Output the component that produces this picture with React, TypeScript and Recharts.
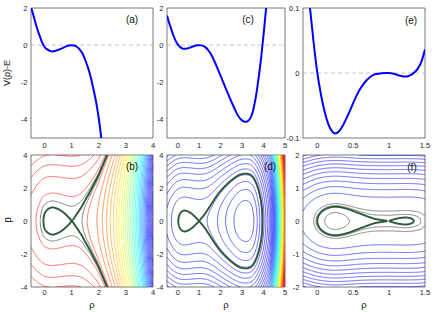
import React from "react";
import { LineChart, Line, XAxis, YAxis, ReferenceLine, ReferenceArea } from "recharts";

const FONT = "'Liberation Sans', Arial, Helvetica, sans-serif";

const rhoA = [
  -0.5, -0.4, -0.3, -0.2, -0.1, 0, 0.1, 0.2, 0.3, 0.4, 0.5, 0.6, 0.7, 0.8, 0.9, 1,
  1.1, 1.2, 1.3, 1.4, 1.5, 1.6, 1.7, 1.8, 1.9, 2, 2.1, 2.2, 2.3, 2.4, 2.5, 2.6,
  2.7, 2.8, 2.9, 3, 3.1, 3.2, 3.3, 3.4, 3.5, 3.6, 3.7, 3.8, 3.9, 4
];
const vA = [
  2.05, 1.55, 1.02, 0.58, 0.18, -0.1, -0.23, -0.31, -0.34, -0.31, -0.26, -0.2, -0.13, -0.066, -0.02, 0,
  -0.02, -0.1, -0.24, -0.45, -0.8, -1.2, -1.7, -2.35, -3.05, -3.95, -5.1, -6.4, -7.9, -9.55, -11.35, -13.3,
  -15.6, -18.1, -20.8, -23.8, -27.1, -30.7, -34.6, -38.8, -43.3, -48.1, -53.3, -58.9, -64.8, -71
];

const rhoC = [
  -0.5, -0.4, -0.3, -0.2, -0.1, 0, 0.1, 0.2, 0.3, 0.4, 0.5, 0.6, 0.7, 0.8, 0.9, 1,
  1.1, 1.2, 1.3, 1.4, 1.5, 1.6, 1.7, 1.8, 1.9, 2, 2.1, 2.2, 2.3, 2.4, 2.5, 2.6,
  2.7, 2.8, 2.9, 3, 3.1, 3.2, 3.3, 3.4, 3.5, 3.6, 3.7, 3.8, 3.9, 4, 4.1, 4.2,
  4.3, 4.4, 4.5, 4.6, 4.7, 4.8, 4.9, 5
];
const vC = [
  1.6, 1.2, 0.85, 0.52, 0.24, 0.04, -0.09, -0.17, -0.2, -0.19, -0.16, -0.12, -0.075, -0.035, -0.009, 0,
  -0.012, -0.05, -0.12, -0.24, -0.4, -0.6, -0.84, -1.1, -1.38, -1.66, -1.94, -2.22, -2.5, -2.77, -3.04, -3.3,
  -3.55, -3.77, -3.94, -4.05, -4.11, -4.12, -4.06, -3.9, -3.58, -3.05, -2.35, -1.5, -0.55, 0.55, 1.75, 3,
  4.6, 7, 10, 13.5, 17.5, 22, 27, 32.5
];

const rhoE = [
  -0.2, -0.15, -0.1, -0.05, 0, 0.05, 0.1, 0.15, 0.2, 0.25, 0.3, 0.35, 0.4, 0.45, 0.5, 0.55,
  0.6, 0.65, 0.7, 0.75, 0.8, 0.85, 0.9, 0.95, 1, 1.05, 1.1, 1.15, 1.2, 1.25, 1.3, 1.35,
  1.4, 1.45, 1.5
];
const vE = [
  0.215, 0.155, 0.097, 0.045, 0, -0.033, -0.059, -0.078, -0.089, -0.093, -0.09, -0.082, -0.071, -0.059, -0.046, -0.034,
  -0.024, -0.016, -0.0095, -0.005, -0.0022, -0.001, -0.0004, -0.0001, 0, -0.0008, -0.0024, -0.0041, -0.0053, -0.0053, -0.0033, 0.0006,
  0.0068, 0.0175, 0.036
];

// contour levels of p^2/2 + V(rho) - E in the bottom row
const levelsB = [
  7.7, 5.5, 3.3, 1.1, -1.1, -3.3, -5.5, -7.7, -9.9, -12.1, -14.3, -16.5, -18.7, -20.9, -23.1, -25.3,
  -27.5, -29.7, -31.9, -34.1, -36.3, -38.5, -40.7, -42.9, -45.1, -47.3, -49.5, -51.7, -53.9, -56.1, -58.3, -60.5,
  -62.7, -64.9, -67.1, -69.3
];
const darkB = [0.4, -0.4];

const levelsD = [
  -3.35, -2.3, -1.25, -0.2, 0.85, 1.9, 2.95, 4, 5.05, 6.1, 7.15, 8.2, 9.25, 10.3, 11.35, 12.4,
  13.45, 14.5, 15.55, 16.6, 17.65, 18.7, 19.75, 20.8, 21.85, 22.9, 23.95, 25, 26.05, 27.1, 28.15, 29.2,
  30.25, 31.3, 32.35, 33.4, 34.45, 35.5, 36.55, 37.6, 38.65, 39.7
];
const darkD: number[] = [];

const levelsF = [0.26, 0.45, 0.64, 0.83, 1.02, 1.21, 1.4, 1.59, 1.78, 1.97, 2.16];
const darkF = [-0.06, 0.015, 0.045];

const separatrix = 0;

type Pt = { x: number; y: number };
type Series = { pts: Pt[]; color: string; width: number };

function jet(t: number) {
  const f = (v: number) => Math.round(255 * Math.max(0, Math.min(1, v)));
  return `rgb(${f(1.5 - Math.abs(4 * t - 3))},${f(1.5 - Math.abs(4 * t - 2))},${f(1.5 - Math.abs(4 * t - 1))})`;
}

// smooth (catmull-rom) lookup through the sampled potential
function smoothPotential(xs: number[], vs: number[]) {
  const n = xs.length;
  return (r: number) => {
    let i = 0;
    while (i < n - 2 && r > xs[i + 1]) i++;
    const t = (r - xs[i]) / (xs[i + 1] - xs[i]);
    const p1 = vs[i];
    const p2 = vs[i + 1];
    const p0 = i > 0 ? vs[i - 1] : 2 * p1 - p2;
    const p3 = i + 2 < n ? vs[i + 2] : 2 * p2 - p1;
    return 0.5 * (2 * p1 + (-p0 + p2) * t + (2 * p0 - 5 * p1 + 4 * p2 - p3) * t * t + (-p0 + 3 * p1 - 3 * p2 + p3) * t * t * t);
  };
}

function keepInside(poly: Pt[], pMax: number): Pt[][] {
  const inside = poly.map((p) => Math.abs(p.y) <= pMax);
  const runs: Pt[][] = [];
  let cur: Pt[] = [];
  for (let k = 0; k < poly.length; k++) {
    const keep = inside[k] || (k > 0 && inside[k - 1]) || (k < poly.length - 1 && inside[k + 1]);
    if (keep) cur.push(poly[k]);
    else {
      if (cur.length > 1) runs.push(cur);
      cur = [];
    }
  }
  if (cur.length > 1) runs.push(cur);
  return runs;
}

function traceLevel(V: (r: number) => number, rs: number[], vs: number[], c: number, pMax: number): Pt[][] {
  const out: Pt[][] = [];
  const n = rs.length;
  const root = (k: number) => rs[k] + ((rs[k + 1] - rs[k]) * (c - vs[k])) / (vs[k + 1] - vs[k]);
  const mom = (r: number) => Math.sqrt(Math.max(0, 2 * (c - V(r))));
  let i = 0;
  while (i < n) {
    if (c - vs[i] < 0) {
      i++;
      continue;
    }
    const start = i;
    while (i < n && c - vs[i] >= 0) i++;
    const end = i - 1;
    const leftTurn = start > 0;
    const rightTurn = end < n - 1;
    const upper: Pt[] = [];
    if (leftTurn) {
      const a = root(start - 1);
      upper.push({ x: a, y: 0 });
      const d = rs[start] - a;
      [0.02, 0.08, 0.2, 0.4, 0.65].forEach((u) => upper.push({ x: a + d * u, y: mom(a + d * u) }));
    }
    for (let k = start; k <= end; k++) upper.push({ x: rs[k], y: Math.sqrt(Math.max(0, 2 * (c - vs[k]))) });
    if (rightTurn) {
      const b = root(end);
      const d = b - rs[end];
      [0.65, 0.4, 0.2, 0.08, 0.02].forEach((u) => upper.push({ x: b - d * u, y: mom(b - d * u) }));
      upper.push({ x: b, y: 0 });
    }
    // drop specks where a level only just dips into a well
    if (leftTurn && rightTurn && upper[upper.length - 1].x - upper[0].x < 0.06) continue;
    const lower = upper.map((p) => ({ x: p.x, y: -p.y }));
    const polys: Pt[][] = [];
    if (leftTurn && rightTurn) polys.push([...upper, ...lower.reverse().slice(1)]);
    else if (leftTurn) polys.push([...upper.slice().reverse(), ...lower.slice(1)]);
    else if (rightTurn) polys.push([...upper, ...lower.reverse().slice(1)]);
    else polys.push(upper, lower);
    polys.forEach((p) => keepInside(p, pMax).forEach((run) => out.push(run)));
  }
  return out;
}

function buildPortrait(
  xs: number[], vs: number[], step: number, pMax: number,
  levels: number[], dark: number[], range: [number, number, number, number]
): Series[] {
  const V = smoothPotential(xs, vs);
  const x0 = xs[0];
  const count = Math.round((xs[xs.length - 1] - x0) / step);
  const rs: number[] = [];
  const vals: number[] = [];
  for (let k = 0; k <= count; k++) {
    const r = x0 + k * step;
    rs.push(r);
    vals.push(V(r));
  }
  const [cmin, cmax, tmin, tmax] = range;
  const out: Series[] = [];
  levels.forEach((c) => {
    const t = Math.max(tmin, Math.min(tmax, (c - cmin) / (cmax - cmin)));
    traceLevel(V, rs, vals, c, pMax).forEach((pts) => out.push({ pts, color: jet(t), width: 0.6 }));
  });
  dark.forEach((c) => traceLevel(V, rs, vals, c, pMax).forEach((pts) => out.push({ pts, color: "#4a4a4a", width: 0.7 })));
  traceLevel(V, rs, vals, separatrix, pMax).forEach((pts) => out.push({ pts, color: "#2e5a3c", width: 1.9 }));
  return out;
}

const seriesB = buildPortrait(rhoA, vA, 0.01, 4, levelsB, darkB, [-69.5, 13, 0.1, 0.875]);
const seriesD = buildPortrait(rhoC, vC, 0.01, 4, levelsD, darkD, [4.8, 40, 0.12, 0.9]);
const seriesF = buildPortrait(rhoE, vE, 0.004, 2, levelsF, darkF, [0, 40, 0.12, 0.12]);

const curve = (xs: number[], vs: number[]): Series[] => [
  { pts: xs.map((x, i) => ({ x, y: vs[i] })), color: "#0000ff", width: 2 }
];

const tickStyle = { fontSize: 7.5, fill: "#222", fontFamily: FONT };

interface PanelProps {
  plot: [number, number, number, number];
  xDomain: [number, number];
  yDomain: [number, number];
  xTicks: number[];
  yTicks: number[];
  series: Series[];
  smooth?: boolean;
  zeroLine?: boolean;
  labelGap: number;
}

function Panel({ plot, xDomain, yDomain, xTicks, yTicks, series, smooth, zeroLine, labelGap }: PanelProps) {
  const [px, py, pw, ph] = plot;
  return (
    <div style={{ position: "absolute", left: px - 30, top: py - 6 }}>
      <LineChart width={pw + 38} height={ph + 20} margin={{ top: 6, right: 8, bottom: 0, left: 0 }}>
        <XAxis
          type="number"
          dataKey="x"
          domain={xDomain}
          ticks={xTicks}
          interval={0}
          allowDataOverflow
          axisLine={false}
          tickLine={false}
          tickSize={3}
          tickMargin={labelGap}
          height={14}
          tick={tickStyle}
        />
        <YAxis
          type="number"
          domain={yDomain}
          ticks={yTicks}
          interval={0}
          allowDataOverflow
          axisLine={false}
          tickLine={false}
          tickSize={3}
          tickMargin={0.5}
          width={30}
          tick={tickStyle}
        />
        {zeroLine && <ReferenceLine y={0} stroke="#b8b8b8" strokeDasharray="4 3" strokeWidth={0.8} />}
        {series.map((s, i) => (
          <Line
            key={i}
            data={s.pts}
            dataKey="y"
            type={smooth ? "monotone" : "linear"}
            stroke={s.color}
            strokeWidth={s.width}
            dot={false}
            activeDot={false}
            isAnimationActive={false}
          />
        ))}
        <ReferenceArea
          x1={xDomain[0]}
          x2={xDomain[1]}
          y1={yDomain[0]}
          y2={yDomain[1]}
          fill="none"
          stroke="#555"
          strokeWidth={0.8}
        />
      </LineChart>
    </div>
  );
}

function Label({ x, y, text, size, rotate }: { x: number; y: number; text: string; size: number; rotate?: boolean }) {
  return (
    <div
      style={{
        position: "absolute",
        left: x,
        top: y,
        transform: `translate(-50%, -50%)${rotate ? " rotate(-90deg)" : ""}`,
        fontSize: size,
        fontFamily: FONT,
        color: "#111",
        whiteSpace: "nowrap",
        lineHeight: 1
      }}
    >
      {text}
    </div>
  );
}

export default function App() {
  return (
    <div style={{ position: "absolute", left: 0, top: 0, width: 436, height: 312, background: "#fff", overflow: "hidden" }}>
      <Panel plot={[31, 8, 122, 130]} xDomain={[-0.5, 4]} yDomain={[-5, 2]} xTicks={[0, 1, 2, 3, 4]} yTicks={[-4, -2, 0, 2]} series={curve(rhoA, vA)} smooth zeroLine labelGap={2} />
      <Panel plot={[167, 8, 118, 130]} xDomain={[-0.5, 5]} yDomain={[-5, 2]} xTicks={[0, 1, 2, 3, 4, 5]} yTicks={[-4, -2, 0, 2]} series={curve(rhoC, vC)} smooth zeroLine labelGap={2} />
      <Panel plot={[303, 8, 122, 130]} xDomain={[-0.2, 1.5]} yDomain={[-0.1, 0.1]} xTicks={[0, 0.5, 1, 1.5]} yTicks={[-0.1, 0, 0.1]} series={curve(rhoE, vE)} smooth zeroLine labelGap={2} />
      <Panel plot={[31, 155, 122, 132]} xDomain={[-0.5, 4]} yDomain={[-4, 4]} xTicks={[0, 1, 2, 3, 4]} yTicks={[-4, -2, 0, 2, 4]} series={seriesB} labelGap={0} />
      <Panel plot={[167, 155, 118, 132]} xDomain={[-0.5, 5]} yDomain={[-4, 4]} xTicks={[0, 1, 2, 3, 4, 5]} yTicks={[-4, -2, 0, 2, 4]} series={seriesD} labelGap={0} />
      <Panel plot={[303, 155, 122, 132]} xDomain={[-0.2, 1.5]} yDomain={[-2, 2]} xTicks={[0, 0.5, 1, 1.5]} yTicks={[-2, -1, 0, 1, 2]} series={seriesF} labelGap={0} />

      <Label x={7} y={73} text="V(ρ)-E" size={9} rotate />
      <Label x={8} y={220} text="p" size={10} rotate />
      <Label x={92} y={305} text="ρ" size={9.5} />
      <Label x={226} y={305} text="ρ" size={9.5} />
      <Label x={364} y={305} text="ρ" size={9.5} />

      <Label x={132} y={20} text="(a)" size={10} />
      <Label x={248} y={20} text="(c)" size={10} />
      <Label x={411} y={21} text="(e)" size={10} />
      <Label x={132} y={167} text="(b)" size={10} />
      <Label x={270} y={167} text="(d)" size={10} />
      <Label x={412} y={168} text="(f)" size={10} />
    </div>
  );
}
